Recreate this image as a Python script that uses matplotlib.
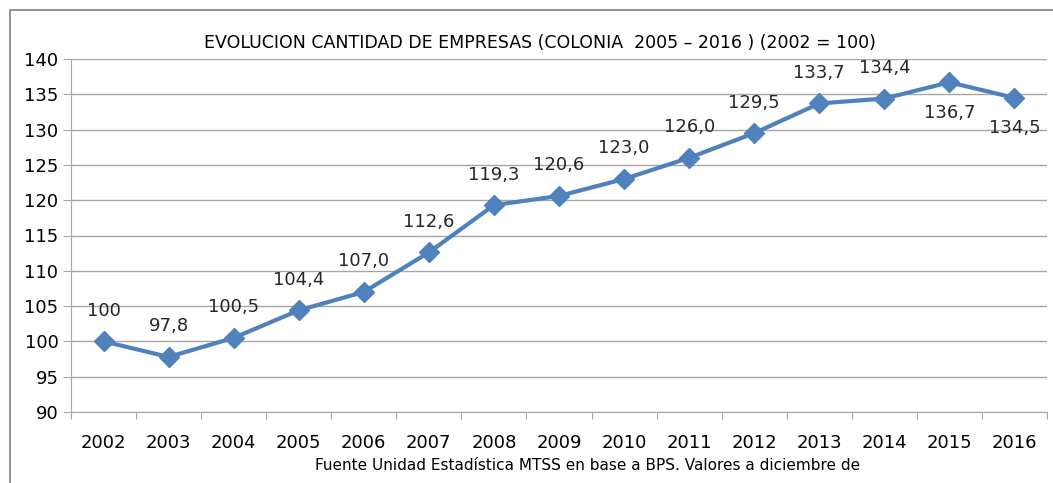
import matplotlib.pyplot as plt
from matplotlib.patches import Rectangle

plt.rcParams['font.family'] = ['DejaVu Sans']

years = ['2002', '2003', '2004', '2005', '2006', '2007', '2008', '2009',
         '2010', '2011', '2012', '2013', '2014', '2015', '2016']
values = [100, 97.8, 100.5, 104.4, 107.0, 112.6, 119.3, 120.6,
          123.0, 126.0, 129.5, 133.7, 134.4, 136.7, 134.5]
labels = ['100', '97,8', '100,5', '104,4', '107,0', '112,6', '119,3', '120,6',
          '123,0', '126,0', '129,5', '133,7', '134,4', '136,7', '134,5']

BLUE = '#4F81BD'
GRID = '#A6A6A6'

fig = plt.figure(figsize=(10.53, 4.83), dpi=100)
fig.patches.append(Rectangle((10 / 1053, -0.1), 1.2, 1 - 10 / 483 + 0.1,
                             transform=fig.transFigure, fill=False,
                             edgecolor='#7F7F7F', linewidth=1.2))
ax = fig.add_axes([71 / 1053, 1 - 412 / 483, (1047 - 71) / 1053, (412 - 59) / 483])

x = list(range(len(years)))
ax.plot(x, values, color=BLUE, linewidth=3, marker='D', markersize=10,
        markeredgecolor=BLUE, zorder=3)

for i, (v, lab) in enumerate(zip(values, labels)):
    dy = -22 if i >= 13 else 22
    ax.annotate(lab, (i, v), xytext=(0, dy), textcoords='offset points',
                ha='center', va='center', fontsize=13, color='#262626')

ax.set_xlim(-0.5, len(years) - 0.5)
ax.set_ylim(90, 140)
ax.set_yticks(range(90, 141, 5))
ax.set_xticks([i - 0.5 for i in range(len(years) + 1)])
ax.set_xticklabels([])
ax.set_xticks(x, minor=True)
ax.set_xticklabels(years, minor=True, fontsize=13)
ax.tick_params(axis='x', which='minor', length=0, pad=16)
ax.tick_params(axis='x', which='major', length=5, color=GRID, direction='out')
ax.tick_params(axis='y', length=6, color=GRID, labelsize=13, pad=3)

ax.grid(axis='y', color=GRID, linewidth=1)
ax.set_axisbelow(True)
for s in ['top', 'right']:
    ax.spines[s].set_visible(False)
for s in ['left', 'bottom']:
    ax.spines[s].set_color(GRID)

fig.text(540 / 1053, 1 - 43 / 483,
         'EVOLUCION CANTIDAD DE EMPRESAS (COLONIA  2005 \u2013 2016 ) (2002 = 100)',
         ha='center', va='center', fontsize=12.5)
fig.text(588 / 1053, 1 - 466 / 483,
         'Fuente Unidad Estadística MTSS en base a BPS. Valores a diciembre de',
         ha='center', va='center', fontsize=11)

fig.savefig('out.png', dpi=100)
